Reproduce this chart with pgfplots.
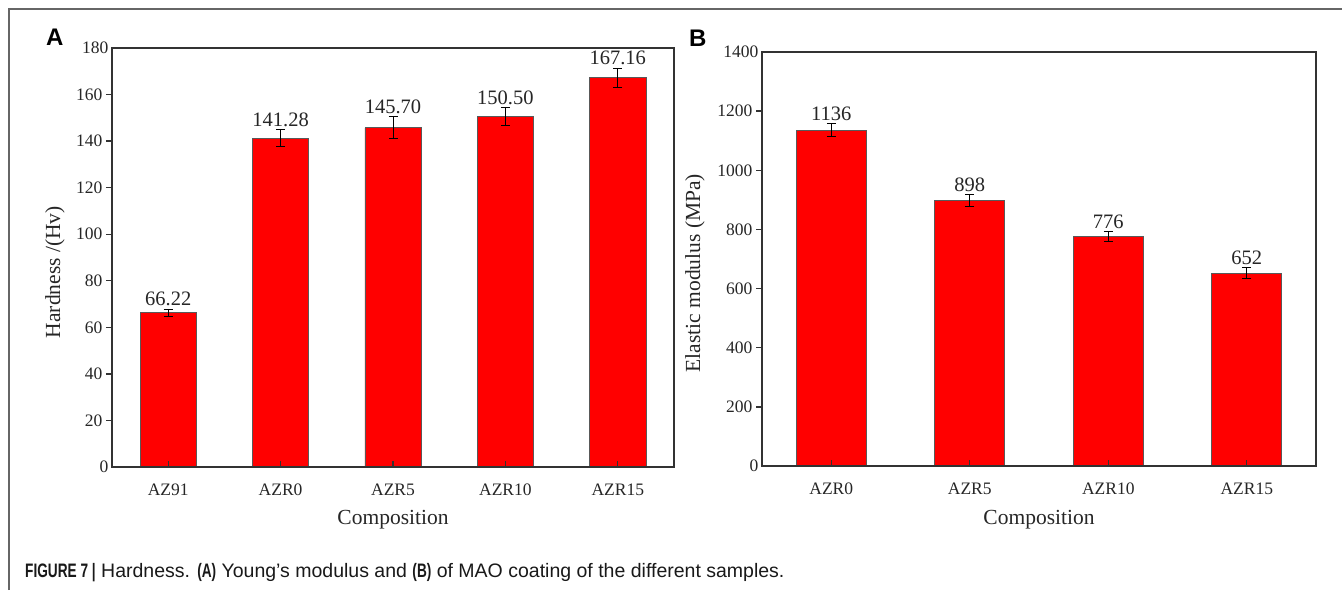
\documentclass[border=0pt]{standalone}
\usepackage{pgfplots}
\pgfplotsset{compat=1.18}
\usepackage{pgfplotstable}
\usepackage{fontspec}
\setmainfont{Liberation Serif}
\newfontfamily\capsans{Liberation Sans}
\newfontfamily\narrowsans[FakeStretch=0.7]{Liberation Sans}

\pgfplotstableread{
x y err lab
0 66.22 1.5 66.22
1 141.28 3.6 141.28
2 145.70 4.7 145.70
3 150.50 3.8 150.50
4 167.16 4.2 167.16
}\dataA

\pgfplotstableread{
x y err lab
0 1136 22 1136
1 898 20 898
2 776 16 776
3 652 18 652
}\dataB

\definecolor{axcol}{RGB}{50,50,50}
\definecolor{barred}{RGB}{255,0,0}

\pgfplotsset{
  mystyle/.style={
    scale only axis,
    axis on top,
    clip=false,
    axis line style={axcol, line width=1.5pt},
    tick pos=left,
    xtick align=inside,
    ytick align=outside,
    major tick length=6pt,
    tick style={axcol, line width=1.3pt},
    /pgf/number format/assume math mode=true,
    /pgf/number format/1000 sep={},
    yticklabel style={font=\fontsize{17.5}{18}\selectfont, text=black!85},
    xticklabel style={font=\fontsize{17.5}{18}\selectfont, text=black!85, yshift=-13pt},
    xlabel style={font=\fontsize{21.5}{22}\selectfont, text=black!85},
    ylabel style={font=\fontsize{21.5}{22}\selectfont, text=black!85},
    extra y tick style={major tick length=0pt},
    xtick={0,1,2,3,4},
  },
  bars/.style={
    ybar, bar width=#1, fill=barred, draw=black!65, line width=0.8pt,
    error bars/.cd, y dir=both, y explicit,
    error bar style={black, line width=0.9pt},
    error mark options={rotate=90, mark size=4.5pt, line width=0.9pt, black},
  },
  bars/.default=0.5,
  vals/.style={
    draw=none, mark=none, nodes near coords, point meta=explicit symbolic,
    nodes near coords style={anchor=south, inner sep=3pt, font=\fontsize{20.5}{21}\selectfont, text=black!85},
  },
}

\begin{document}
\begin{tikzpicture}
\path[use as bounding box] (0pt,0pt) rectangle (1342pt,-590pt);
\draw[black!60, line width=1.3pt] (9pt,-590pt) -- (9pt,-9pt) -- (1342pt,-9pt);

\begin{axis}[mystyle,
  at={(112pt,-467pt)}, anchor=south west,
  width=562pt, height=419pt,
  xmin=-0.5, xmax=4.5, ymin=0, ymax=180,
  xticklabels={AZ91,AZR0,AZR5,AZR10,AZR15},
  ytick={20,40,...,160},
  extra y ticks={0,180},
  xlabel={Composition},
  ylabel={Hardness /(Hv)},
  xlabel style={at={(axis description cs:0.5,0)}, anchor=center, yshift=-52.5pt},
  ylabel style={at={(axis description cs:-0.1014,0.465)}, anchor=center},
]
\addplot[bars] table[x=x, y=y, y error=err] {\dataA};
\addplot[vals] table[x=x, y expr=\thisrow{y}+\thisrow{err}, meta=lab] {\dataA};
\end{axis}

\begin{axis}[mystyle,
  at={(762pt,-466pt)}, anchor=south west,
  width=554pt, height=414pt,
  xmin=-0.5, xmax=3.5, ymin=0, ymax=1400,
  xtick={0,1,2,3},
  xticklabels={AZR0,AZR5,AZR10,AZR15},
  ytick={200,400,...,1200},
  extra y ticks={0,1400},
  xlabel={Composition},
  ylabel={Elastic modulus (MPa)},
  xlabel style={at={(axis description cs:0.5,0)}, anchor=center, yshift=-53.5pt},
  ylabel style={at={(axis description cs:-0.121,0.466)}, anchor=center},
]
\addplot[bars=0.505] table[x=x, y=y, y error=err] {\dataB};
\addplot[vals] table[x=x, y expr=\thisrow{y}+\thisrow{err}, meta=lab] {\dataB};
\end{axis}

\node[anchor=base west, inner sep=0pt, font=\capsans\bfseries\fontsize{24}{24}\selectfont] at (46pt,-45pt) {A};
\node[anchor=base west, inner sep=0pt, font=\capsans\bfseries\fontsize{24}{24}\selectfont] at (689pt,-46pt) {B};

\node[anchor=base west, inner sep=0pt, font=\capsans\fontsize{19.5}{20}\selectfont, text=black!90] at (25pt,-577pt)
  {{\narrowsans\bfseries FIGURE 7 |} Hardness. {\narrowsans\bfseries (A)} Young’s modulus and {\narrowsans\bfseries (B)} of MAO coating of the different samples.};
\end{tikzpicture}
\end{document}
